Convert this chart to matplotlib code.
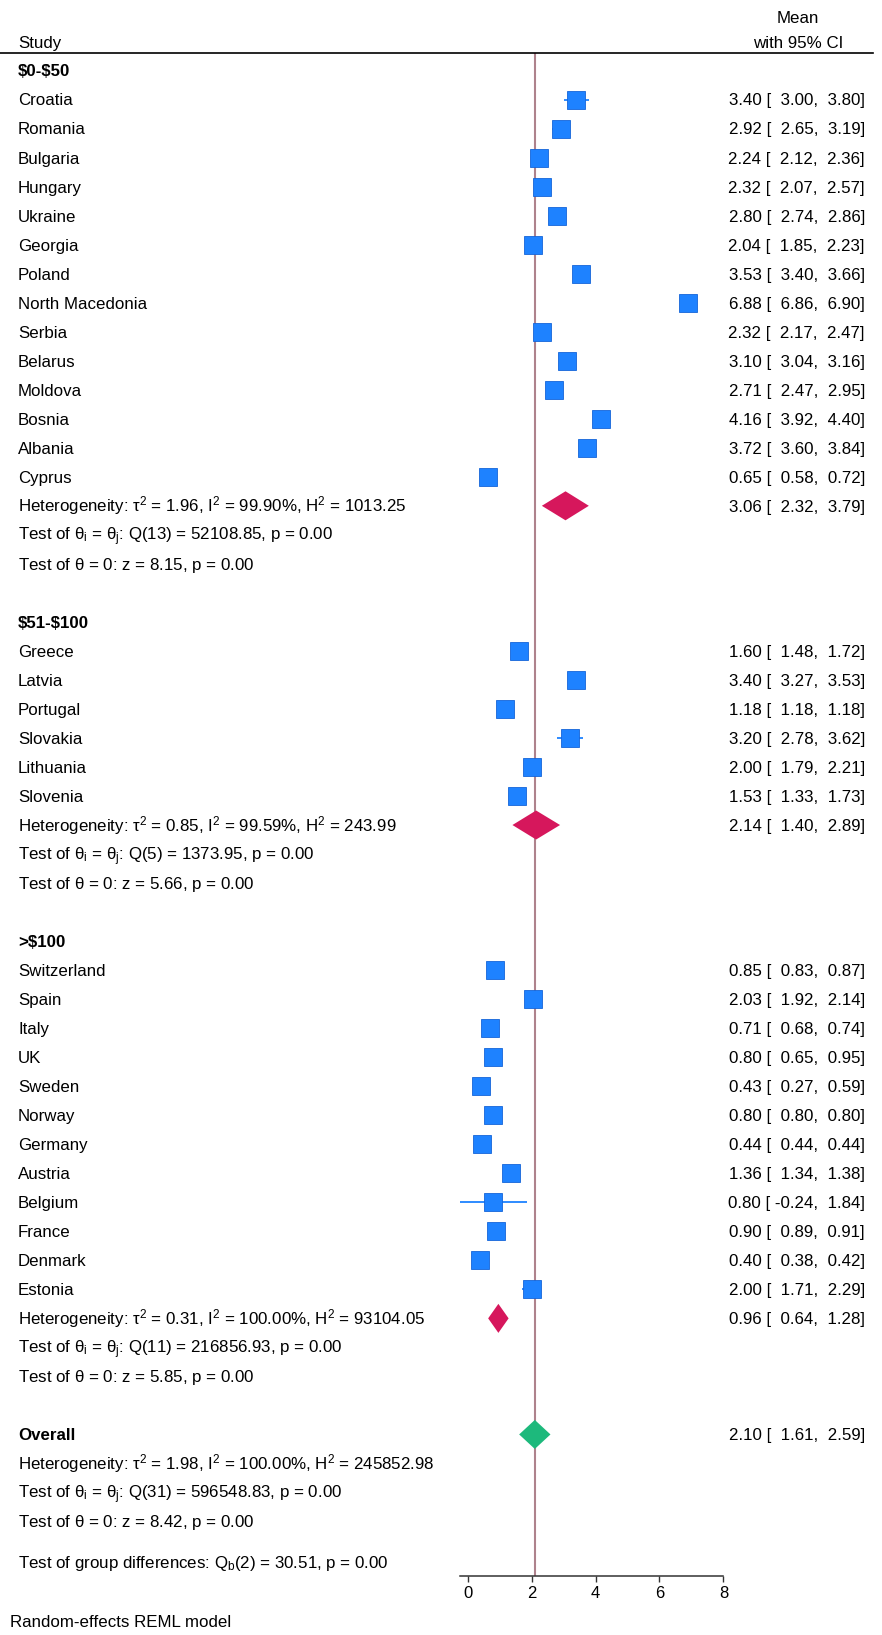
import matplotlib
matplotlib.use("Agg")
import matplotlib.pyplot as plt
from matplotlib.transforms import blended_transform_factory
from matplotlib.lines import Line2D

plt.rcParams["font.family"] = ["Liberation Sans", "DejaVu Sans"]
plt.rcParams["mathtext.fontset"] = "custom"
plt.rcParams["mathtext.rm"] = "Liberation Sans"
plt.rcParams["mathtext.it"] = "Liberation Sans:italic"
plt.rcParams["mathtext.bf"] = "Liberation Sans:bold"

# ---- data ---------------------------------------------------------------
g1_names = ["Croatia", "Romania", "Bulgaria", "Hungary", "Ukraine", "Georgia",
            "Poland", "North Macedonia", "Serbia", "Belarus", "Moldova",
            "Bosnia", "Albania", "Cyprus"]
g1_mean = [3.40, 2.92, 2.24, 2.32, 2.80, 2.04, 3.53, 6.88, 2.32, 3.10, 2.71, 4.16, 3.72, 0.65]
g1_lo = [3.00, 2.65, 2.12, 2.07, 2.74, 1.85, 3.40, 6.86, 2.17, 3.04, 2.47, 3.92, 3.60, 0.58]
g1_hi = [3.80, 3.19, 2.36, 2.57, 2.86, 2.23, 3.66, 6.90, 2.47, 3.16, 2.95, 4.40, 3.84, 0.72]

g2_names = ["Greece", "Latvia", "Portugal", "Slovakia", "Lithuania", "Slovenia"]
g2_mean = [1.60, 3.40, 1.18, 3.20, 2.00, 1.53]
g2_lo = [1.48, 3.27, 1.18, 2.78, 1.79, 1.33]
g2_hi = [1.72, 3.53, 1.18, 3.62, 2.21, 1.73]

g3_names = ["Switzerland", "Spain", "Italy", "UK", "Sweden", "Norway", "Germany",
            "Austria", "Belgium", "France", "Denmark", "Estonia"]
g3_mean = [0.85, 2.03, 0.71, 0.80, 0.43, 0.80, 0.44, 1.36, 0.80, 0.90, 0.40, 2.00]
g3_lo = [0.83, 1.92, 0.68, 0.65, 0.27, 0.80, 0.44, 1.34, -0.24, 0.89, 0.38, 1.71]
g3_hi = [0.87, 2.14, 0.74, 0.95, 0.59, 0.80, 0.44, 1.38, 1.84, 0.91, 0.42, 2.29]

group_labels = ["$0-$50", "$51-$100", ">$100"]
group_summary = [(3.06, 2.32, 3.79), (2.14, 1.40, 2.89), (0.96, 0.64, 1.28)]
group_tau2 = ["1.96", "0.85", "0.31"]
group_I2 = ["99.90", "99.59", "100.00"]
group_H2 = ["1013.25", "243.99", "93104.05"]
group_df = [13, 5, 11]
group_Q = ["52108.85", "1373.95", "216856.93"]
group_z = ["8.15", "5.66", "5.85"]

overall_summary = (2.10, 1.61, 2.59)
overall_tau2, overall_I2, overall_H2 = "1.98", "100.00", "245852.98"
overall_df, overall_Q, overall_z = 31, "596548.83", "8.42"
groupdiff_df, groupdiff_Q = 2, "30.51"

x_ticks = [0, 2, 4, 6, 8]

groups = [
    (g1_names, g1_mean, g1_lo, g1_hi),
    (g2_names, g2_mean, g2_lo, g2_hi),
    (g3_names, g3_mean, g3_lo, g3_hi),
]

# ---- figure / axes geometry ---------------------------------------------
W, H = 882, 1635
fig = plt.figure(figsize=(W / 100, H / 100), dpi=100)

px0, ppu = 467.7, 31.96          # pixel of x=0 and pixels per unit
xmin, xmax = -0.24, 8.0
row0, rowh = 70.5, 29.02          # pixel of row 0 and row height
top_px, bot_px = 53.3, 1576.0

left = (px0 + xmin * ppu) / W
right = (px0 + xmax * ppu) / W
ax = fig.add_axes([left, 1 - bot_px / H, right - left, (bot_px - top_px) / H])
ax.set_xlim(xmin, xmax)
ax.set_ylim((bot_px - row0) / rowh, (top_px - row0) / rowh)

for s in ["top", "right", "left"]:
    ax.spines[s].set_visible(False)
ax.spines["bottom"].set_linewidth(1.1)
ax.spines["bottom"].set_color("#333333")
ax.set_yticks([])
ax.set_xticks(x_ticks)
ax.tick_params(axis="x", direction="out", length=4, width=1.0, colors="#333333",
               labelsize=12.0, pad=3, labelcolor="black")
ax.patch.set_visible(False)

FS = 12.2
BASE = 0.205                      # baseline offset below a row centre, in rows
BLUE = "#1E82FF"
BLUE_EDGE = "#1565D8"
RED = "#D6175C"
GREEN = "#1DB97C"
REF = "#AE828C"

tr = blended_transform_factory(fig.transFigure, ax.transData)
XL = 18 / W
XR = 865 / W


def ltext(row, s, bold=False, math=False, x=XL):
    ax.text(x, row + BASE, s, transform=tr, ha="left", va="baseline",
            fontsize=FS, fontweight="bold" if bold else "normal",
            clip_on=False, parse_math=math)


def rtext(row, m, lo, hi):
    ax.text(XR, row + BASE, f"{m:.2f} [{lo:6.2f},{hi:6.2f}]", transform=tr,
            ha="right", va="baseline", fontsize=FS, clip_on=False,
            parse_math=False)


def diamond(row, m, lo, hi, color):
    h = 0.5
    ax.fill([lo, m, hi, m], [row, row - h, row, row + h], color=color, lw=0,
            zorder=4)


def het_text(tau2, i2, h2):
    return (r"Heterogeneity: $\mathrm{\tau^2}$ = " + tau2 + r", $\mathrm{I^2}$ = "
            + i2 + r"%, $\mathrm{H^2}$ = " + h2)


# reference line at the overall estimate
ax.axvline(overall_summary[0], color=REF, lw=1.5, zorder=1)

# header
fig.add_artist(Line2D([0, 873 / W], [1 - top_px / H] * 2, color="black", lw=1.2))
ax.text(XL, (42 - row0) / rowh + BASE, "Study", transform=tr, ha="left",
        va="baseline", fontsize=FS, clip_on=False)
ax.text(798 / W, (17 - row0) / rowh + BASE, "Mean", transform=tr, ha="center",
        va="baseline", fontsize=FS, clip_on=False)
ax.text(798 / W, (42 - row0) / rowh + BASE, "with 95% CI", transform=tr,
        ha="center", va="baseline", fontsize=FS, clip_on=False)

row = 0
for gi, (names, means, los, his) in enumerate(groups):
    ltext(row, group_labels[gi], bold=True)
    row += 1
    for n, m, lo, hi in zip(names, means, los, his):
        ltext(row, n)
        ax.plot([lo, hi], [row, row], color=BLUE, lw=1.3, zorder=2,
                solid_capstyle="butt")
        ax.plot([m], [row], marker="s", ms=13.2, color=BLUE,
                markeredgecolor=BLUE_EDGE, markeredgewidth=0.6, zorder=3)
        rtext(row, m, lo, hi)
        row += 1
    sm, slo, shi = group_summary[gi]
    ltext(row, het_text(group_tau2[gi], group_I2[gi], group_H2[gi]), math=True)
    diamond(row, sm, slo, shi, RED)
    rtext(row, sm, slo, shi)
    row += 1
    ltext(row, r"Test of $\mathrm{\theta_i}$ = $\mathrm{\theta_j}$: Q(" + str(group_df[gi])
          + ") = " + group_Q[gi] + ", p = 0.00", math=True)
    row += 1
    ltext(row, r"Test of $\mathrm{\theta}$ = 0: z = " + group_z[gi] + ", p = 0.00",
          math=True)
    row += 2

om, olo, ohi = overall_summary
ltext(row, "Overall", bold=True)
diamond(row, om, olo, ohi, GREEN)
rtext(row, om, olo, ohi)
row += 1
ltext(row, het_text(overall_tau2, overall_I2, overall_H2), math=True)
row += 1
ltext(row, r"Test of $\mathrm{\theta_i}$ = $\mathrm{\theta_j}$: Q(" + str(overall_df)
      + ") = " + overall_Q + ", p = 0.00", math=True)
row += 1
ltext(row, r"Test of $\mathrm{\theta}$ = 0: z = " + overall_z + ", p = 0.00", math=True)
ltext(row + 1.39, r"Test of group differences: Q$_\mathrm{b}$(" + str(groupdiff_df)
      + ") = " + groupdiff_Q + ", p = 0.00", math=True)

ax.text(10 / W, (1621 - row0) / rowh + BASE, "Random-effects REML model",
        transform=tr, ha="left", va="baseline", fontsize=FS, clip_on=False)

fig.savefig("out.png", dpi=100, facecolor="white")
